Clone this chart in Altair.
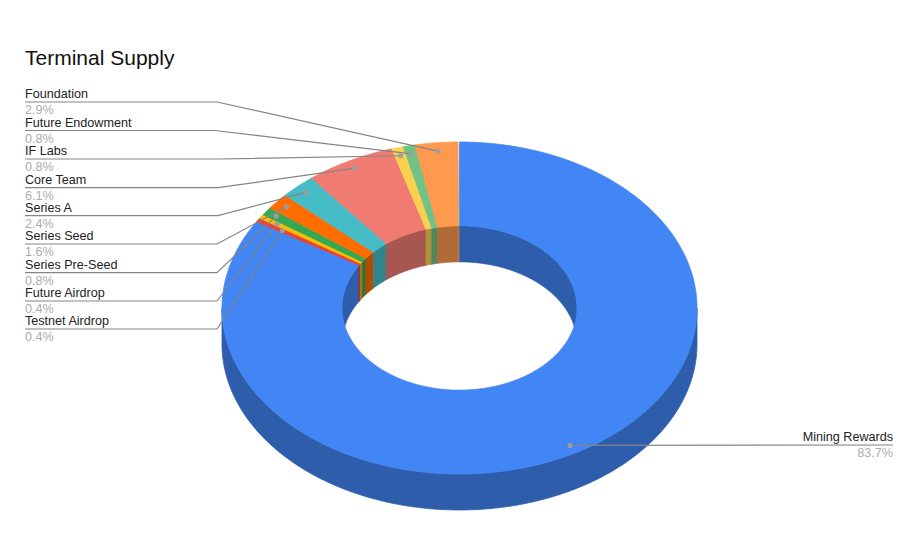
import math
import altair as alt

TITLE = "Terminal Supply"
names = ["Mining Rewards", "Testnet Airdrop", "Future Airdrop", "Series Pre-Seed", "Series Seed",
         "Series A", "Core Team", "IF Labs", "Future Endowment", "Foundation"]
shares = [83.7, 0.4, 0.4, 0.8, 1.6, 2.4, 6.1, 0.8, 0.8, 2.9]
colors = ["#4285F4", "#EA4335", "#FBBC04", "#34A853", "#FF6D01",
          "#46BDC6", "#F07B72", "#FCD04F", "#71C287", "#FF994D"]
rule_y = [445, 329, 301, 272.7, 244, 215.7, 187.7, 159, 130.5, 102]
knee_x = [None, 217, 217, 217, 217, 218, 218, 218, 215, 217]
dot_r = [0.95, 0.88, 0.92, 0.95, 0.95, 0.95, 0.95, 0.95, 0.95, 0.95]
speck_y = [36.7, 42.7]
speck_x = [905.3, 905.3]

# page geometry
OX, OY = 8, 65
CX, CY, RX, RY = 459.5 - OX, 308 - OY, 237.5, 166
HOLE = 117.5 / 237.5
DEPTH = 36
LEFT_X, RIGHT_X = 25 - OX, 893 - OX


def shade(hex_color, k=0.7):
    r, g, b = [int(hex_color[i:i + 2], 16) for i in (1, 3, 5)]
    return "#%02X%02X%02X" % (round(r * k), round(g * k), round(b * k))


def pt(a_deg, rad, dy=0):
    a = math.radians(a_deg)
    return [CX + RX * rad * math.sin(a), CY - RY * rad * math.cos(a) + dy]


def arc(a0, a1, rad, dy=0):
    n = max(2, int(abs(a1 - a0) * 2) + 2)
    return [pt(a0 + (a1 - a0) * i / (n - 1), rad, dy) for i in range(n)]


def poly(points, fill, name):
    return {"type": "Feature", "properties": {"fill": fill, "name": name},
            "geometry": {"type": "Polygon", "coordinates": [points + [points[0]]]}}


edges = [0.0]
for s in shares:
    edges.append(edges[-1] + s * 3.6)

outer_wall, inner_wall, faces = [], [], []
for name, c, a0, a1 in zip(names, colors, edges[:-1], edges[1:]):
    # outer side wall: front half only (90..270 degrees)
    lo, hi = max(a0, 90), min(a1, 270)
    if hi > lo:
        outer_wall.append(poly(arc(lo, hi, 1) + arc(hi, lo, 1, DEPTH), shade(c), name))
    # inner wall: back half only (270..360 and 0..90 degrees)
    for lo, hi in ((max(a0, 270), min(a1, 360)), (max(a0, 0), min(a1, 90))):
        if hi > lo:
            inner_wall.append(poly(arc(lo, hi, HOLE) + arc(hi, lo, HOLE, DEPTH), shade(c), name))
    faces.append(poly(arc(a0, a1, 1) + arc(a1, a0, HOLE), c, name))

features = outer_wall + inner_wall + faces

line_rows, dot_rows, label_rows, value_rows = [], [], [], []
for i, name in enumerate(names):
    mid = (edges[i] + edges[i + 1]) / 2
    dx, dy = pt(mid, dot_r[i])
    ly = rule_y[i] - OY
    value = f"{shares[i]}%"
    dot_rows.append({"x": dx, "y": dy})
    if i == 0:
        path = [(dx, dy), (RIGHT_X, ly)]
    else:
        path = [(LEFT_X, ly), (knee_x[i] - OX, ly), (dx, dy)]
    for k, (x, y) in enumerate(path):
        line_rows.append({"x": x, "y": y, "k": k, "name": name})
    tx = RIGHT_X if i == 0 else LEFT_X
    label_rows.append({"x": tx, "y": ly - 3.7, "t": name, "a": "right" if i == 0 else "left"})
    value_rows.append({"x": tx, "y": ly + 12.3, "t": value, "a": "right" if i == 0 else "left"})

speck_rows = [{"x": x - OX, "y": y - OY} for x, y in zip(speck_x, speck_y)]

projection = alt.Projection(type="identity", scale=1, translate=[0, 0])
FONT = "Liberation Sans"
lon = alt.Longitude("x:Q")
lat = alt.Latitude("y:Q")

shapes = alt.Chart(alt.Data(values=features)).mark_geoshape(strokeWidth=0.8, clip=False).encode(
    fill=alt.Fill("properties.fill:N", scale=None),
    stroke=alt.Stroke("properties.fill:N", scale=None),
    tooltip=alt.Tooltip("properties.name:N"),
).project(**projection.to_dict())

lines = alt.Chart(alt.Data(values=line_rows)).mark_line(color="#858585", strokeWidth=1.2).encode(
    longitude=lon, latitude=lat, detail="name:N", order="k:Q"
).project(**projection.to_dict())

dots = alt.Chart(alt.Data(values=dot_rows)).mark_circle(color="#9E9E9E", opacity=1, size=26).encode(
    longitude=lon, latitude=lat
).project(**projection.to_dict())

specks = alt.Chart(alt.Data(values=speck_rows)).mark_circle(color="#909090", opacity=1, size=6).encode(
    longitude=lon, latitude=lat
).project(**projection.to_dict())


def text_layer(rows, color):
    layers = []
    for align in ("left", "right"):
        subset = [r for r in rows if r["a"] == align]
        layers.append(
            alt.Chart(alt.Data(values=subset)).mark_text(
                font=FONT, fontSize=12.6, color=color, align=align, baseline="alphabetic"
            ).encode(longitude=lon, latitude=lat, text="t:N").project(**projection.to_dict())
        )
    return layers


chart = alt.layer(
    shapes, lines, dots, specks, *text_layer(label_rows, "#222222"), *text_layer(value_rows, "#ABABAB")
).properties(
    width=898, height=480,
    padding={"left": 0, "top": 57, "right": 0, "bottom": 0},
    autosize=alt.AutoSizeParams(type="none"),
    background="white",
    title=alt.TitleParams(
        text=TITLE, anchor="start", frame="group", font=FONT, fontSize=21, fontWeight="normal",
        color="#111111", baseline="alphabetic", offset=0, dx=LEFT_X, dy=21
    ),
).configure_view(stroke=None)

chart.save("out.html", embed_options={"renderer": "svg", "actions": False})
